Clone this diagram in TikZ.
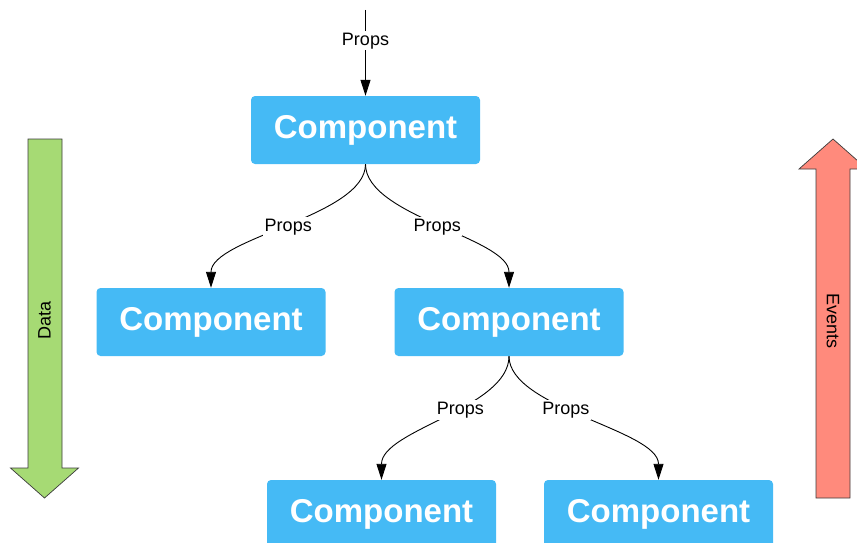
\documentclass[tikz,border=0pt]{standalone}
\usepackage{fontspec}
\setmainfont{Liberation Sans}
\usetikzlibrary{arrows.meta}
\definecolor{compblue}{RGB}{69,186,245}
\definecolor{datagreen}{RGB}{166,218,116}
\definecolor{eventred}{RGB}{255,138,124}
\definecolor{edgegray}{RGB}{60,60,60}
\tikzset{
  comp/.style={rectangle, rounded corners=4pt, fill=compblue, text=white,
    minimum width=229pt, minimum height=68pt, inner sep=0pt,
    font=\fontsize{33}{36}\selectfont\bfseries},
  flow/.style={line width=0.9pt, -{Triangle[length=16pt,width=10pt]}},
  lbl/.style={fill=white, inner sep=1.5pt, font=\fontsize{18}{20}\selectfont},
  bigarrow/.style={draw=edgegray, line width=0.7pt, line join=miter},
  sidetext/.style={font=\fontsize{18}{20}\selectfont}
}
\begin{document}
\begin{tikzpicture}[x=1pt,y=-1pt]
  \useasboundingbox (0,0) rectangle (857,543);
  \clip (0,0) rectangle (857,543);

  % component tree
  \node[comp] (top) at (365.5,130) {Component};
  \node[comp] (ml)  at (211,322)   {Component};
  \node[comp] (mr)  at (509,322)   {Component};
  \node[comp] (bl)  at (381.5,514) {Component};
  \node[comp] (br)  at (658.5,514) {Component};

  \coordinate (src) at (365.5,10);

  % props passed downwards
  \draw[flow] (src) -- node[lbl, pos=0.36] {Props} (top.north);
  \draw[flow] (top.south) .. controls +(0,52) and +(0,-50) .. node[lbl] {Props} (ml.north);
  \draw[flow] (top.south) .. controls +(0,52) and +(0,-50) .. node[lbl] {Props} (mr.north);
  \draw[flow] (mr.south) .. controls +(0,52) and +(0,-50) .. node[lbl, pos=0.42] {Props} (bl.north);
  \draw[flow] (mr.south) .. controls +(0,52) and +(0,-50) .. node[lbl, pos=0.42] {Props} (br.north);

  % data flows down
  \draw[bigarrow, fill=datagreen]
    (28,139) -- (62,139) -- (62,468) -- (78.5,468) -- (44.5,498)
    -- (10.5,468) -- (28,468) -- cycle;
  \node[sidetext, rotate=90] (data) at (44.5,320) {Data};

  % events bubble up
  \draw[bigarrow, fill=eventred]
    (816,498) -- (850,498) -- (850,169) -- (867,169) -- (833,139)
    -- (799,169) -- (816,169) -- cycle;
  \node[sidetext, rotate=-90] (events) at (833,321) {Events};
\end{tikzpicture}
\end{document}
